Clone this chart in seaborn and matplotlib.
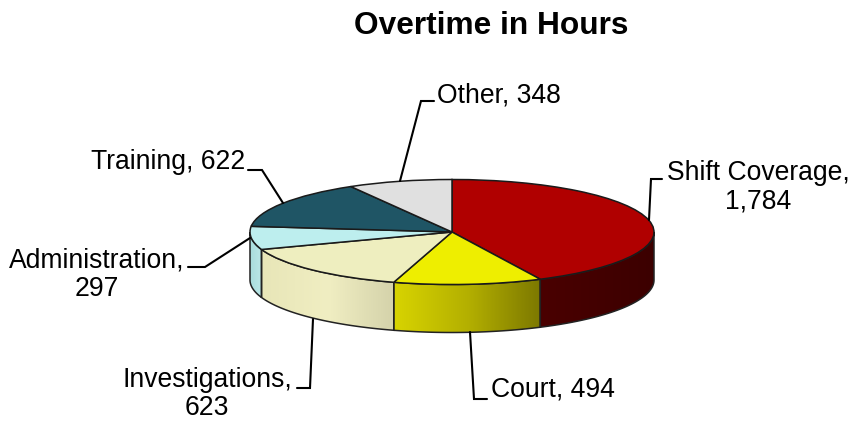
import numpy as np
import matplotlib
matplotlib.use('Agg')
import matplotlib.pyplot as plt
from matplotlib.patches import Polygon
import seaborn as sns

# data
categories = ['Shift Coverage', 'Court', 'Investigations', 'Administration', 'Training', 'Other']
hours = [1784, 494, 623, 297, 622, 348]
top_colors = ['#b00000', '#eeee00', '#eeeebf', '#bdeeee', '#1f5565', '#e0e0e0']
wall_colors = [
    ['#4a0000', '#3c0000'],
    ['#d8d400', '#b4b000', '#7c7800'],
    ['#e8e6b8', '#f0eec2', '#d4d2aa'],
    ['#a8dcdc', '#bce8e8'],
    ['#1f5565', '#1f5565'],
    ['#e0e0e0', '#e0e0e0'],
]

sns.set_theme(style='white')
plt.rcParams['font.family'] = ['Liberation Sans', 'DejaVu Sans']

W, H = 862, 421
CX, CY, RX, RY, DEPTH = 452, 232, 202, 52.5, 48


def px(x, y):
    # reference pixel position -> pie units
    return (x - CX) / RX, (CY - y) / RY


fig = plt.figure(figsize=(W / 100, H / 100), dpi=100)
ax = fig.add_axes([0, 0, 1, 1])

depth = DEPTH / RY
wedges, _ = ax.pie(hours, colors=top_colors, startangle=90, counterclock=False,
                   wedgeprops={'edgecolor': '#1a1a1a', 'linewidth': 1.1, 'zorder': 5})

# side wall of the pie, only the front half shows
ends = np.cumsum(hours) / sum(hours) * 360
starts = ends - np.array(hours) / sum(hours) * 360
for a0, a1, stops in zip(starts, ends, wall_colors):
    lo, hi = max(a0, 90), min(a1, 270)
    if lo >= hi:
        continue
    t = np.radians(np.linspace(lo, hi, 80))
    xs, ys = np.sin(t), np.cos(t)
    outline = np.r_[np.c_[xs, ys], np.c_[xs, ys - depth][::-1]]
    cmap = sns.blend_palette(stops, as_cmap=True)
    poly = Polygon(outline, closed=True, facecolor='none', edgecolor='#222222',
                   linewidth=1.1, zorder=3)
    ax.add_patch(poly)
    # gradient runs left to right on screen
    grad = np.linspace(0, 1, 256)[None, :]
    if xs[0] > xs[-1]:
        x_ext = (xs[-1], xs[0])
    else:
        x_ext = (xs[0], xs[-1])
    im = ax.imshow(grad, cmap=cmap, aspect='auto', zorder=2,
                   extent=(x_ext[0], x_ext[1], ys.min() - depth - 0.05, ys.max() + 0.05))
    im.set_clip_path(poly)

ax.set_aspect('auto')
ax.set_xlim(*sorted([px(0, 0)[0], px(W, 0)[0]]))
ax.set_ylim(px(0, H)[1], px(0, 0)[1])
ax.axis('off')

# leader lines
leaders = [
    [(649, 220), (651, 179), (662, 179)],
    [(470, 332), (474, 399), (487, 399)],
    [(313, 319), (310, 388), (297, 388)],
    [(250, 238), (205, 267), (188, 267)],
    [(283, 203), (262, 170), (248, 170)],
    [(400, 181), (421, 101), (434, 101)],
]
for pts in leaders:
    lx, ly = zip(*[px(*p) for p in pts])
    ax.plot(lx, ly, color='black', lw=1.5, zorder=6, solid_joinstyle='miter')

# labels
label_pos = [
    (758, 187, 'center'),
    (491, 390, 'left'),
    (207, 394, 'center'),
    (97, 275, 'center'),
    (245, 162, 'right'),
    (437, 95, 'left'),
]
label_text = [
    f'{categories[0]},\n{hours[0]:,}',
    f'{categories[1]}, {hours[1]:,}',
    f'{categories[2]},\n{hours[2]:,}',
    f'{categories[3]},\n{hours[3]:,}',
    f'{categories[4]}, {hours[4]:,}',
    f'{categories[5]}, {hours[5]:,}',
]
for (x, y, ha), s in zip(label_pos, label_text):
    tx, ty = px(x, y)
    ax.text(tx, ty, s, ha=ha, va='center', ma='center', fontsize=19.1,
            color='black', linespacing=1.14, zorder=7)

tx, ty = px(491, 26)
ax.text(tx, ty, 'Overtime in Hours', ha='center', va='center', fontsize=22.8,
        fontweight='bold', color='black')

fig.savefig('out.png', dpi=100)
